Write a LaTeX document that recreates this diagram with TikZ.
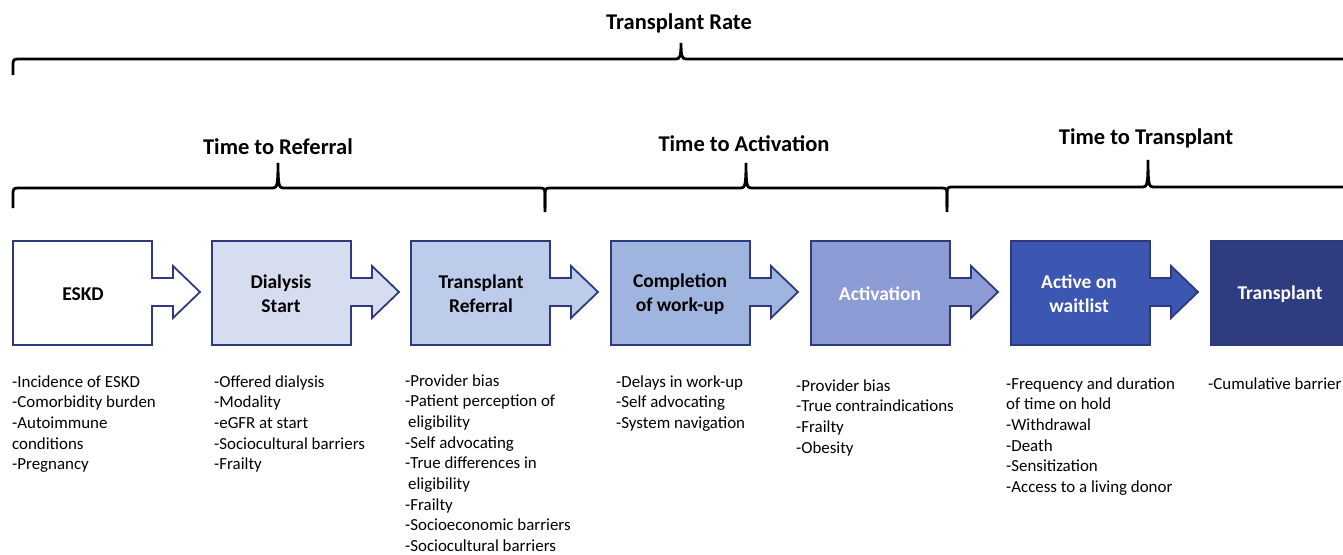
\documentclass[tikz,border=0pt]{standalone}
\usepackage{fontspec}
\setmainfont{Carlito}
\usepackage{tikz}
\usetikzlibrary{calc}
\definecolor{edgeblue}{HTML}{2F3A7E}
\definecolor{dialysisfill}{HTML}{D7DDF0}
\definecolor{referralfill}{HTML}{BCCCEA}
\definecolor{workupfill}{HTML}{9FB5E0}
\definecolor{activationfill}{HTML}{8C9BD4}
\definecolor{waitlistfill}{HTML}{3B57B1}
\definecolor{transplantfill}{HTML}{2F3D80}
\tikzset{
  boxline/.style={draw=edgeblue, line width=1.8pt, line join=miter},
  boxlabel/.style={align=center, inner sep=0pt, font=\fontsize{19.5}{24}\selectfont\bfseries},
  listtext/.style={align=left, inner sep=0pt, anchor=base west, font=\fontsize{16.9}{20.7}\selectfont},
  titletext/.style={inner sep=0pt, font=\fontsize{22.5}{27}\selectfont\bfseries},
  bracestyle/.style={line width=2.8pt, line cap=butt}
}
% box with arrow on its right side, left edge at #1
\def\arrowbox(#1)[#2]{\draw[boxline, fill=#2] (#1,241) -- (#1+139,241) -- (#1+139,278) -- (#1+160,278) -- (#1+160,266) -- (#1+187,292) -- (#1+160,318) -- (#1+160,306) -- (#1+139,306) -- (#1+139,345) -- (#1,345) -- cycle;}
% curly brace: left x, tip x, right x, line y, end depth, tip height
\def\curlybrace(#1:#2:#3:#4:#5:#6){\draw[bracestyle] (#1,#4+#5) -- (#1,#4+5) .. controls (#1,#4+1) and (#1+1,#4) .. (#1+5,#4) -- (#2-5,#4) .. controls (#2-1,#4) and (#2,#4-3) .. (#2,#4-#6) .. controls (#2,#4-3) and (#2+1,#4) .. (#2+5,#4) -- (#3-5,#4) .. controls (#3-1,#4) and (#3,#4+1) .. (#3,#4+5) -- (#3,#4+#5);}

\begin{document}
\begin{tikzpicture}[x=1pt, y=-1pt]
		%%%%% START %%%%%
		\useasboundingbox (0,0) rectangle (1343,554);
		\clip (0,0) rectangle (1343,554);
		
		% braces and their titles
		\node[titletext] (rate) at (679,23) {Transplant Rate};
		\curlybrace(13:681:1380:59:16:16)
		
		\node[titletext] (toreferral) at (278,147) {Time to Referral};
		\curlybrace(13:278:545:188:20:25)
		\node[titletext] (toactivation) at (744,144) {Time to Activation};
		\curlybrace(545:746:947:188:24:25)
		\node[titletext] (totransplant) at (1146,138) {Time to Transplant};
		\curlybrace(947:1148:1380:187:20:27)
		
		% steps
		\arrowbox(13)[white]
		\arrowbox(212)[dialysisfill]
		\arrowbox(411)[referralfill]
		\arrowbox(611)[workupfill]
		\arrowbox(811)[activationfill]
		\arrowbox(1011)[waitlistfill]
		\draw[boxline, fill=transplantfill] (1211,241) rectangle (1380,345);
		
		\node[boxlabel] (eskd) at (83,294) {ESKD};
		\node[boxlabel] (dialysis) at (281,294) {Dialysis\\Start};
		\node[boxlabel] (referral) at (481,294) {Transplant\\Referral};
		\node[boxlabel] (workup) at (680,294) {Completion\\of work-up};
		\node[boxlabel, text=white] (activation) at (880,294) {Activation};
		\node[boxlabel, text=white] (waitlist) at (1079,294) {Active on\\waitlist};
		\node[boxlabel, text=white] (transplant) at (1280,294) {Transplant};
		
		% barriers under each step (placed by the baseline of their last line)
		\node[listtext] (eskdlist) at (12,469.8) {-Incidence of ESKD\\-Comorbidity burden\\-Autoimmune\\conditions\\-Pregnancy};
		\node[listtext] (dialysislist) at (214,469.8) {-Offered dialysis\\-Modality\\-eGFR at start\\-Sociocultural barriers\\-Frailty};
		\node[listtext] (referrallist) at (405,551.6) {-Provider bias\\-Patient perception of\\\hspace{3pt}eligibility\\-Self advocating\\-True differences in\\\hspace{3pt}eligibility\\-Frailty\\-Socioeconomic barriers\\-Sociocultural barriers};
		\node[listtext] (workuplist) at (616,428.4) {-Delays in work-up\\-Self advocating\\-System navigation};
		\node[listtext] (activationlist) at (796,453.1) {-Provider bias\\-True contraindications\\-Frailty\\-Obesity};
		\node[listtext] (waitlistlist) at (1006,492.5) {-Frequency and duration\\of time on hold\\-Withdrawal\\-Death\\-Sensitization\\-Access to a living donor};
		\node[listtext] (transplantlist) at (1208,389) {-Cumulative barrier};
		
		%%%%% END %%%%%
\end{tikzpicture}
\end{document}
